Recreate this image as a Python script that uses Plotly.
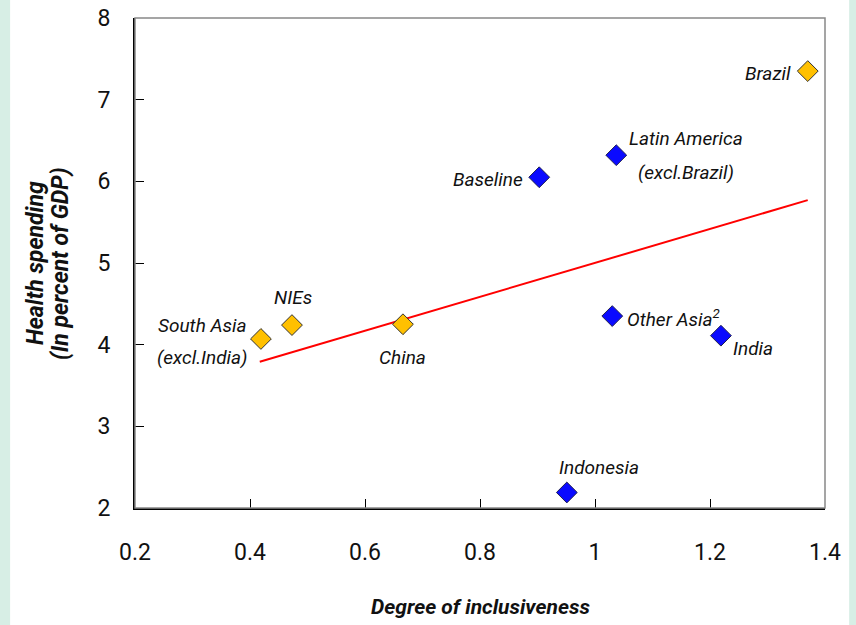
import plotly.graph_objects as go

# Data
blue_names = ["Baseline", "Latin America<br>(excl.Brazil)", "Other Asia<sup>2</sup>", "India", "Indonesia"]
blue_x = [0.903, 1.037, 1.030, 1.219, 0.951]
blue_y = [6.05, 6.32, 4.35, 4.11, 2.19]

gold_names = ["Brazil", "NIEs", "South Asia<br>(excl.India)", "China"]
gold_x = [1.370, 0.473, 0.419, 0.666]
gold_y = [7.35, 4.24, 4.07, 4.25]

trend_x = [0.417, 1.370]
trend_y = [3.79, 5.77]

x_ticks = [0.2, 0.4, 0.6, 0.8, 1.0, 1.2, 1.4]
x_ticktext = ["0.2", "0.4", "0.6", "0.8", "1", "1.2", "1.4"]
y_ticks = [2, 3, 4, 5, 6, 7, 8]

FONT = "Roboto, Liberation Sans, sans-serif"

fig = go.Figure()
fig.add_trace(go.Scatter(x=trend_x, y=trend_y, mode="lines",
                         line=dict(color="#ff0000", width=2), hoverinfo="skip"))
fig.add_trace(go.Scatter(x=blue_x, y=blue_y, mode="markers",
                         marker=dict(symbol="diamond", size=16, color="#0a0aff",
                                     line=dict(color="#202050", width=1))))
fig.add_trace(go.Scatter(x=gold_x, y=gold_y, mode="markers",
                         marker=dict(symbol="diamond", size=16, color="#ffc000",
                                     line=dict(color="#333333", width=1))))

lab_font = dict(family=FONT, size=19, color="#111111")

# label placement per point: (xanchor, xshift, yshift of line centres)
blue_place = [("right", -14, [-2]), ("center", 70, [17, -17]), ("left", 13, [-2]),
              ("left", 10, [-13]), ("center", 32, [25])]
gold_place = [("right", -15, [-2]), ("center", 1, [28]), ("center", -58, [13, -19]),
              ("center", 0, [-33])]

for names, xs_, ys_, places in [(blue_names, blue_x, blue_y, blue_place),
                                (gold_names, gold_x, gold_y, gold_place)]:
    for name, x, y, (xa, xsh, yshs) in zip(names, xs_, ys_, places):
        for line, ysh in zip(name.split("<br>"), yshs):
            fig.add_annotation(x=x, y=y, text="<i>" + line + "</i>", showarrow=False,
                               xanchor=xa, yanchor="middle", xshift=xsh, yshift=ysh,
                               font=lab_font)

# axis titles
fig.add_annotation(x=0.5, y=-0.202, xref="paper", yref="paper",
                   xanchor="center", yanchor="middle",
                   text="<b><i>Degree of inclusiveness</i></b>", showarrow=False,
                   font=dict(family=FONT, size=21, color="#111111"))
for txt, xp in [("Health spending", -0.145), ("(In percent of GDP)", -0.1087)]:
    fig.add_annotation(x=xp, y=0.5, xref="paper", yref="paper", textangle=-90,
                       xanchor="center", yanchor="middle",
                       text="<b><i>" + txt + "</i></b>", showarrow=False,
                       font=dict(family=FONT, size=23, color="#111111"))

# background strips
fig.add_shape(type="rect", xref="paper", yref="paper", x0=-0.181, x1=1.035,
              y0=-0.26, y1=1.06, fillcolor="white", line=dict(width=0), layer="below")
fig.add_shape(type="rect", xref="paper", yref="paper", x0=0, x1=1, y0=0, y1=1,
              line=dict(color="#888888", width=1.5), layer="above")

fig.update_layout(
    width=856, height=625,
    margin=dict(l=135, r=31, t=18, b=117, autoexpand=False),
    paper_bgcolor="#d7eee5", plot_bgcolor="white",
    showlegend=False,
    font=dict(family=FONT, size=22, color="#111111"),
)
fig.update_xaxes(range=[0.2, 1.4], tickvals=x_ticks, ticktext=x_ticktext,
                 ticks="inside", ticklen=9, tickcolor="black", showgrid=False,
                 zeroline=False, showline=True, linecolor="black", linewidth=2,
                 automargin=False,
                 ticklabelstandoff=22, tickfont=dict(family=FONT, size=23))
fig.update_yaxes(range=[2, 8], tickvals=y_ticks,
                 ticks="inside", ticklen=9, tickcolor="black", showgrid=False,
                 zeroline=False, showline=True, linecolor="black", linewidth=2,
                 automargin=False,
                 ticklabelstandoff=18, tickfont=dict(family=FONT, size=23))

fig.write_html("out.html", config={"displayModeBar": False},
               post_script="document.body.style.margin='0';document.body.style.overflow='hidden';")
